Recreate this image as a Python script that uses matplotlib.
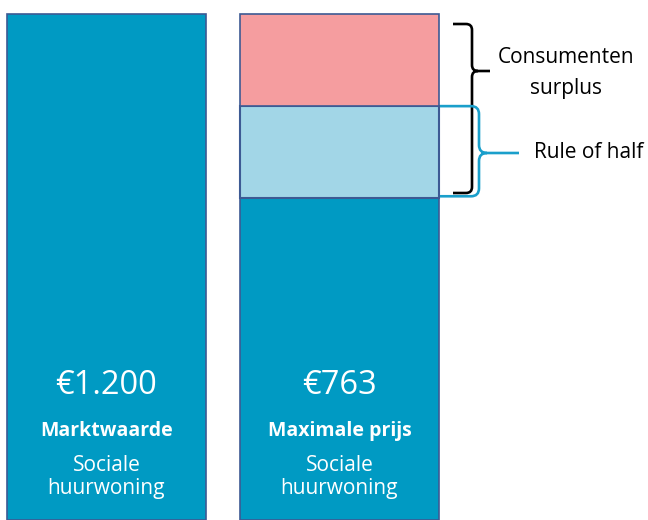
import numpy as np
import matplotlib.pyplot as plt
from matplotlib.path import Path
from matplotlib.patches import PathPatch
import matplotlib.transforms as mtransforms

plt.rcParams['font.family'] = ['Open Sans', 'DejaVu Sans']

# data
categories = ['Marktwaarde', 'Maximale prijs']
amounts = ['€1.200', '€763']
sublabel = 'Sociale\nhuurwoning'
market_value = 1200
max_price = 763
surplus_half = (market_value - max_price) / 2   # rule of half split

BLUE = '#009AC3'
PINK = '#F59D9F'
LIGHT = '#A2D6E7'
EDGE = '#3D5A94'
BRACE_BLUE = '#1A9FCB'

fig = plt.figure(figsize=(6.48, 5.2), dpi=100)
ax = fig.add_axes([0, 0, 1, 1])

x = np.arange(len(categories))
w = 0.854
ax.bar(x[0], market_value, width=w, color=BLUE, edgecolor=EDGE, linewidth=1.2)
ax.bar(x[1], max_price, width=w, color=BLUE, edgecolor=EDGE, linewidth=1.2)
ax.bar(x[1], surplus_half, bottom=max_price, width=w, color=LIGHT, edgecolor=EDGE, linewidth=1.5)
ax.bar(x[1], surplus_half, bottom=max_price + surplus_half, width=w, color=PINK,
       edgecolor=EDGE, linewidth=1.2)

ax.set_xlim(-0.457, 2.324)
ax.set_ylim(0, market_value * 520 / 506)
ax.axis('off')

# text inside the bars
tr = mtransforms.blended_transform_factory(ax.transData, ax.transAxes)
for xi, amt, cat in zip(x, amounts, categories):
    ax.text(xi, 1 - 385 / 520, amt, transform=tr, ha='center', va='center',
            color='white', fontsize=23.5)
    ax.text(xi, 1 - 431 / 520, cat, transform=tr, ha='center', va='center',
            color='white', fontsize=14, fontweight='bold')
    ax.text(xi, 1 - 477 / 520, sublabel, transform=tr, ha='center', va='center',
            color='white', fontsize=15, linespacing=1.1)

px = lambda p: (p - 106.5) / 233          # pixel column -> bar axis units
pv = lambda p: (520 - p) * market_value / 506
vp = lambda v: 520 - v * 506 / market_value


def brace(x0, xv, xt, y_top, y_bot, ym, color, r=7):
    # curly brace (pixel geometry) opening to the left, tip pointing right
    pts = [(x0, y_top), (xv - r, y_top), (xv, y_top), (xv, y_top + r),
           (xv, ym - r), (xv, ym), (xv + r, ym), (xt, ym),
           (xv + r, ym), (xv, ym), (xv, ym + r),
           (xv, y_bot - r), (xv, y_bot), (xv - r, y_bot), (x0, y_bot)]
    codes = [Path.MOVETO, Path.LINETO, Path.CURVE3, Path.CURVE3,
             Path.LINETO, Path.CURVE3, Path.CURVE3, Path.LINETO,
             Path.MOVETO, Path.CURVE3, Path.CURVE3,
             Path.LINETO, Path.CURVE3, Path.CURVE3, Path.LINETO]
    verts = [(px(a), pv(b)) for a, b in pts]
    ax.add_patch(PathPatch(Path(verts, codes), fill=False, edgecolor=color, lw=1.9,
                           capstyle='butt', joinstyle='round'))


brace(453, 472, 490, 24, 193, 71, 'black', r=6)
brace(440, 479, 519, vp(max_price + surplus_half), vp(max_price) - 2, 153, BRACE_BLUE, r=8)

ax.text(px(566), pv(73), 'Consumenten\nsurplus', ha='center', va='center',
        fontsize=15, linespacing=1.6)
ax.text(px(589), pv(153), 'Rule of half', ha='center', va='center', fontsize=15)

fig.savefig('out.png', dpi=100)
